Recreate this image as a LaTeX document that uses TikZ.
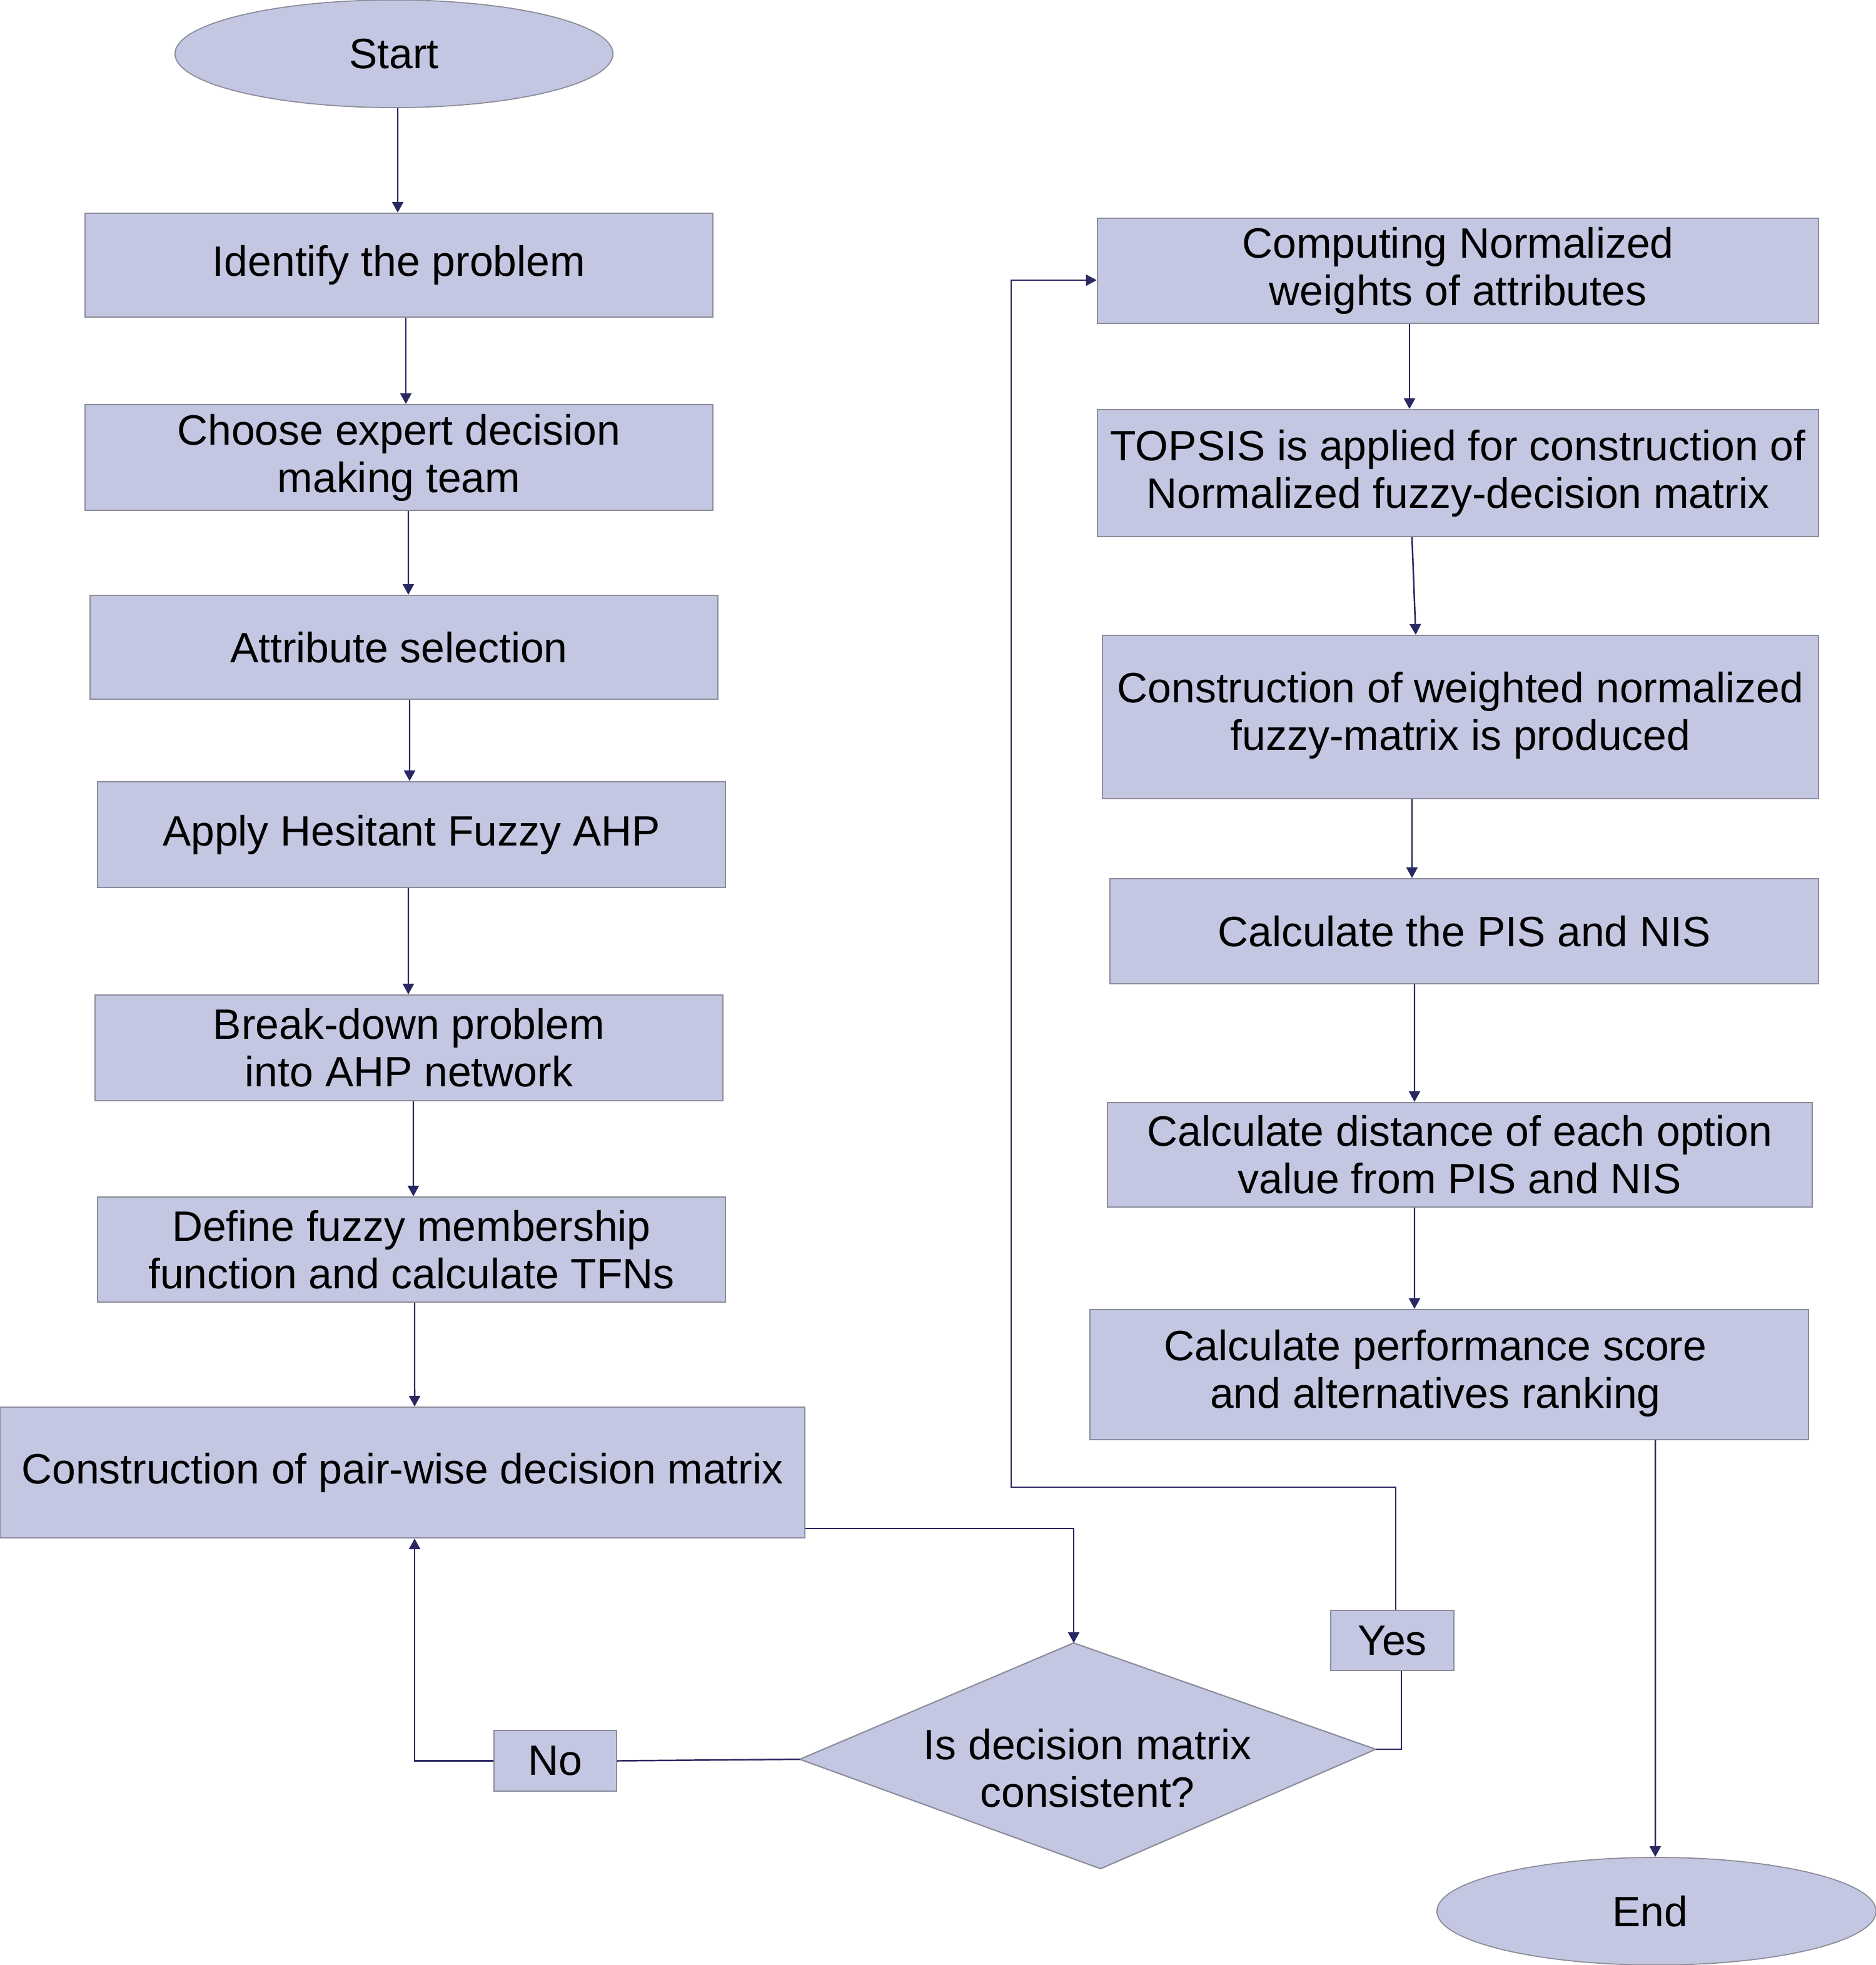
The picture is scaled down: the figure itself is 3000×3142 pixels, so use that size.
\documentclass[tikz,border=0pt]{standalone}
\usepackage{fontspec}
\setmainfont{Liberation Sans}
\usetikzlibrary{arrows.meta,calc,shapes.geometric}
\definecolor{boxfill}{RGB}{195,199,226}
\definecolor{boxline}{RGB}{140,140,155}
\definecolor{arrcol}{RGB}{42,40,98}
\tikzset{
  flowbox/.style={rectangle, fill=boxfill, draw=boxline, line width=0.6pt, align=center, inner sep=0pt, font=\fontsize{19.3}{21.6}\selectfont},
  termin/.style={ellipse, fill=boxfill, draw=boxline, line width=0.5pt, inner sep=0pt, font=\fontsize{19.3}{21.6}\selectfont},
  txt/.style={align=center, inner sep=0pt, font=\fontsize{19.3}{21.6}\selectfont},
  conn/.style={draw=arrcol, line width=0.7pt},
  arr/.style={conn, -{Triangle[length=0.17cm,width=0.18cm]}},
}
\begin{document}
\begin{tikzpicture}[x=0.01cm,y=-0.01cm]
\useasboundingbox (0,0) rectangle (3000,3142);
% left column
\node[termin, minimum width=7cm, minimum height=1.72cm] (start) at (630,86) {Start};
\node[flowbox, minimum width=10.04cm, minimum height=1.66cm] (identify) at (638,424) {\raisebox{-0.03cm}{Identify the problem}};
\node[flowbox, minimum width=10.04cm, minimum height=1.69cm] (choose) at (638,731.5) {Choose expert decision\\making team};
\node[flowbox, minimum width=10.04cm, minimum height=1.66cm] (attr) at (646,1035) {Attribute selection\hspace*{0.16cm}};
\node[flowbox, minimum width=10.04cm, minimum height=1.69cm] (apply) at (658,1334.5) {Apply Hesitant Fuzzy AHP};
\node[flowbox, minimum width=10.04cm, minimum height=1.69cm] (break) at (654,1675.5) {Break-down problem\\into AHP network};
\node[flowbox, minimum width=10.04cm, minimum height=1.68cm] (define) at (658,1998) {Define fuzzy membership\\function and calculate TFNs};
\node[flowbox, minimum width=12.87cm, minimum height=2.09cm] (pair) at (643.5,2354.5) {\raisebox{0.14cm}{Construction of pair-wise decision matrix}};
% right column
\node[flowbox, minimum width=11.53cm, minimum height=1.68cm] (computing) at (2331.5,433) {Computing Normalized\\weights of attributes};
\node[flowbox, minimum width=11.53cm, minimum height=2.03cm] (topsis) at (2331.5,756.5) {TOPSIS is applied for construction of\\Normalized fuzzy-decision matrix};
\node[flowbox, minimum width=11.45cm, minimum height=2.61cm] (weighted) at (2335.5,1146.5) {\raisebox{0.1cm}{\begin{tabular}{@{}c@{}}Construction of weighted normalized\\fuzzy-matrix is produced\end{tabular}}};
\node[flowbox, minimum width=11.33cm, minimum height=1.68cm] (pis) at (2341.5,1489) {Calculate the PIS and NIS};
\node[flowbox, minimum width=11.27cm, minimum height=1.67cm] (distance) at (2334.5,1846.5) {Calculate distance of each option\\value from PIS and NIS};
\node[flowbox, minimum width=11.49cm, minimum height=2.08cm] (perf) at (2317.5,2198) {\begin{tabular}{@{}c@{}}Calculate performance score\\and alternatives ranking\end{tabular}\hspace*{0.44cm}};
\node[termin, minimum width=7.02cm, minimum height=1.72cm] (end) at (2649,3056) {End\hspace*{0.2cm}};
% decision
\coordinate (dleft) at (1279,2813);
\coordinate (dtop) at (1717,2627);
\coordinate (dright) at (2200,2797);
\coordinate (dbot) at (1760,2988);
\path[fill=boxfill, draw=boxline, line width=0.6pt] (dleft) -- (dtop) -- (dright) -- (dbot) -- cycle;
\node[txt] (dec) at (1739,2827) {Is decision matrix\\consistent?};
\node[flowbox, minimum width=1.96cm, minimum height=0.97cm] (no) at (888,2815.5) {No};
\node[flowbox, minimum width=1.97cm, minimum height=0.96cm] (yes) at (2226.5,2623) {Yes};
\coordinate (c1) at (1617,2378);
% connectors left
\draw[arr] ([xshift=0.06cm]start.south) -- ([xshift=-0.02cm]identify.north);
\draw[arr] ([xshift=0.11cm]identify.south) -- ([xshift=0.11cm]choose.north);
\draw[arr] ([xshift=0.15cm]choose.south) -- ([xshift=0.07cm]attr.north);
\draw[arr] ([xshift=0.09cm]attr.south) -- ([xshift=-0.03cm]apply.north);
\draw[arr] ([xshift=-0.05cm]apply.south) -- ([xshift=-0.01cm]break.north);
\draw[arr] ([xshift=0.07cm]break.south) -- ([xshift=0.03cm]define.north);
\draw[arr] ([xshift=0.05cm]define.south) -- ([xshift=0.195cm]pair.north);
\draw[arr] ([yshift=0.16cm]pair.south east) -| (dtop);
\draw[conn] (dleft) -- (no.east);
\draw[arr] (no.west) -| ([xshift=0.195cm]pair.south);
\draw[conn] (dright) -| ([xshift=0.145cm]yes.south);
\draw[arr] ([xshift=0.055cm]yes.north) |- (c1) |- ([yshift=-0.15cm]computing.west);
% connectors right
\draw[arr] ([xshift=-0.775cm]computing.south) -- ([xshift=-0.775cm]topsis.north);
\draw[arr] ([xshift=-0.735cm]topsis.south) -- ([xshift=-0.715cm]weighted.north);
\draw[arr] ([xshift=-0.775cm]weighted.south) -- ([xshift=-0.835cm]pis.north);
\draw[arr] ([xshift=-0.795cm]pis.south) -- ([xshift=-0.725cm]distance.north);
\draw[arr] ([xshift=-0.725cm]distance.south) -- ([xshift=-0.555cm]perf.north);
\draw[arr] ([xshift=3.295cm]perf.south) -- ([xshift=-0.02cm]end.north);
\end{tikzpicture}
\end{document}
